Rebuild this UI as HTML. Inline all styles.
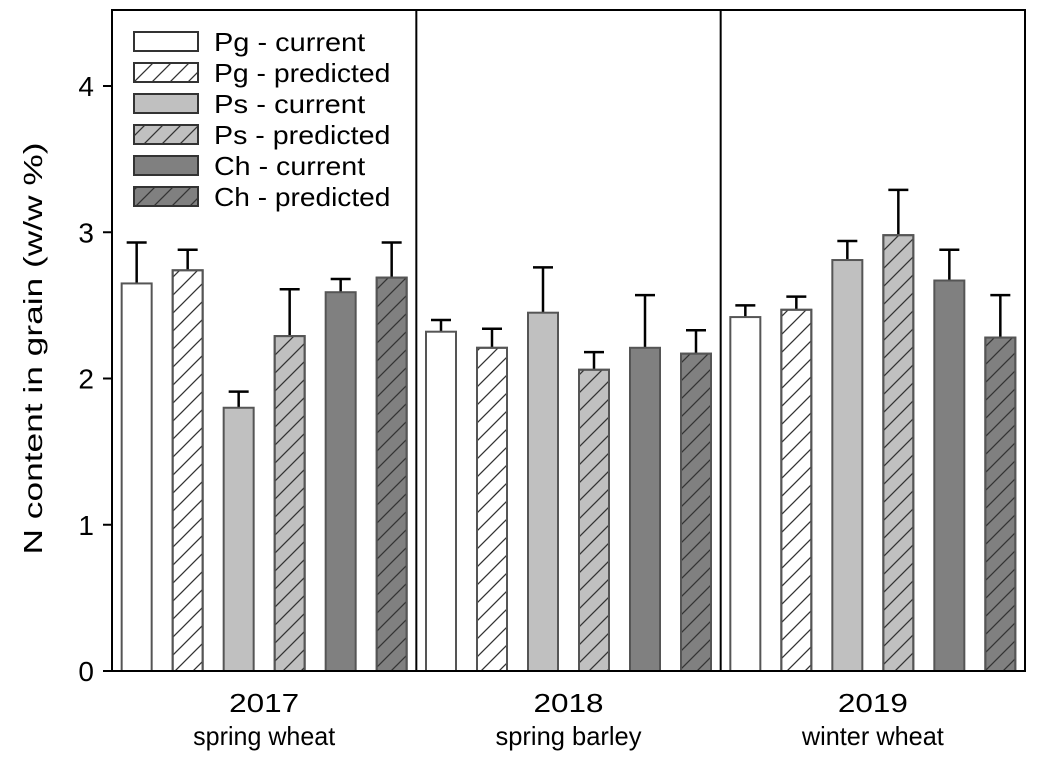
<!DOCTYPE html>
<html><head><meta charset="utf-8"><style>body{margin:0;background:#fff}svg{display:block;font-family:"Liberation Sans",Arial,sans-serif}</style></head>
<body>
<svg id="c" width="1041" height="763">
<defs>
<pattern id="h" patternUnits="userSpaceOnUse" width="18" height="18"><path d="M-2,20 L20,-2 M-2,2 L2,-2 M16,20 L20,16" stroke="#333" stroke-width="1.3"/></pattern>
</defs>
</svg>
<script>
const groups=["2017","2018","2019"];
const subLabels=["spring wheat","spring barley","winter wheat"];
const seriesNames=["Pg - current","Pg - predicted","Ps - current","Ps - predicted","Ch - current","Ch - predicted"];
const means=[[2.65,2.74,1.80,2.29,2.59,2.69],[2.32,2.21,2.45,2.06,2.21,2.17],[2.42,2.47,2.81,2.98,2.67,2.28]];
const errTops=[[2.93,2.88,1.91,2.61,2.68,2.93],[2.40,2.34,2.76,2.18,2.57,2.33],[2.50,2.56,2.94,3.29,2.88,2.57]];
const yTicks=[0,1,2,3,4];
const fills=["#ffffff","#ffffff","#c0c0c0","#c0c0c0","#808080","#808080"];
const hatched=[false,true,false,true,false,true];
const svg=document.getElementById('c');const NS="http://www.w3.org/2000/svg";
function el(t,a,p){const e=document.createElementNS(NS,t);for(const k in a)e.setAttribute(k,a[k]);(p||svg).appendChild(e);return e;}
const L=112,R=1025,T=10,B=671;
const y=v=>B-v*146.25;
const gw=(R-L)/groups.length;
const x=(g,s)=>L+gw*g+gw/2+(s-2.5)*51;
const plot=el('g',{});
means.forEach((row,g)=>row.forEach((v,s)=>{
 const cx=x(g,s);
 const eb=el('line',{x1:cx,x2:cx,y1:y(v),y2:y(errTops[g][s]),stroke:'#000','stroke-width':2.5},plot);
 
 const cap=el('line',{x1:cx-10,x2:cx+10,y1:y(errTops[g][s]),y2:y(errTops[g][s]),stroke:'#000','stroke-width':2.5},plot);
 
 const r=el('rect',{x:cx-15,y:y(v),width:30,height:B-y(v),fill:fills[s],stroke:'#555','stroke-width':2},plot);
 
 if(hatched[s]){const hr=el('rect',{x:cx-15,y:y(v),width:30,height:B-y(v),fill:'url(#h)',stroke:'#555','stroke-width':2},plot);
 }
}));
const f=el('rect',{x:L,y:T,width:R-L,height:B-T,fill:'none',stroke:'#000','stroke-width':2});

for(let g=1;g<groups.length;g++){const d=el('line',{x1:L+gw*g,x2:L+gw*g,y1:T,y2:B,stroke:'#000','stroke-width':2});
}
yTicks.forEach(t=>{const tk=el('line',{x1:L-9,x2:L,y1:y(t),y2:y(t),stroke:'#000','stroke-width':2});

const tl=el('text',{x:L-18,y:y(t)+10,'text-anchor':'end','font-size':28});tl.textContent=t;
});
groups.forEach((gname,g)=>{const cx=L+gw*g+gw/2;
const a=el('text',{x:cx,y:712,'text-anchor':'middle','font-size':26,textLength:70,lengthAdjust:'spacingAndGlyphs'});a.textContent=gname;

const b=el('text',{x:cx,y:745,'text-anchor':'middle','font-size':26,textLength:gname==='2018'?146:142,lengthAdjust:'spacingAndGlyphs'});b.textContent=subLabels[g];
});
const yt=el('text',{x:42,y:(T+B)/2+8,'text-anchor':'middle','font-size':26,textLength:412,lengthAdjust:'spacingAndGlyphs',transform:'rotate(-90 42 '+((T+B)/2+8)+')'});
yt.textContent='N content in grain (w/w %)';

const lg=el('g',{});
seriesNames.forEach((n,s)=>{const yy=42+s*31;
const r=el('rect',{x:134,y:yy-10,width:64,height:19,fill:fills[s],stroke:'#333','stroke-width':2},lg);

if(hatched[s]){const h=el('rect',{x:134,y:yy-10,width:64,height:19,fill:'url(#h)',stroke:'#333','stroke-width':2},lg);
}
const t=el('text',{x:214,y:yy+9,'font-size':26,textLength:n.length*12.6,lengthAdjust:'spacingAndGlyphs'},lg);t.textContent=n;
});
</script>
</body></html>
